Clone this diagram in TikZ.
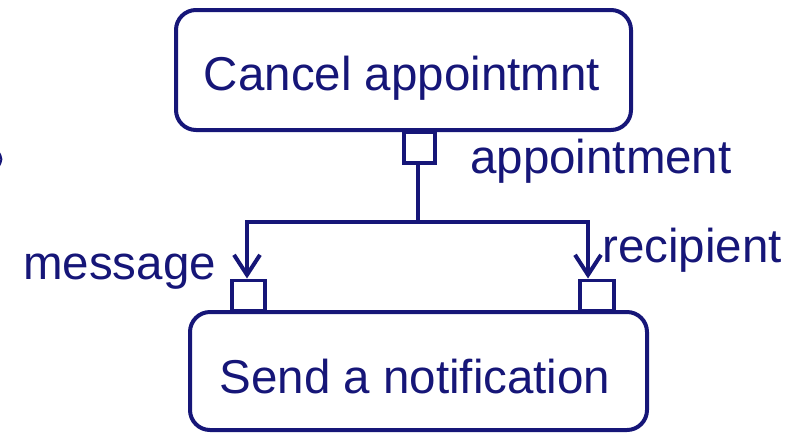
\documentclass[tikz,border=0pt]{standalone}
\usepackage{fontspec}
\setmainfont{Liberation Sans}
\usetikzlibrary{arrows.meta}
\definecolor{navy}{RGB}{22,22,120}
\begin{document}
\begin{tikzpicture}[x=1pt,y=-1pt,
  every node/.style={text=navy,font=\fontsize{47.5}{56}\selectfont},
  action/.style={draw=navy,line width=4pt,rounded corners=20pt,inner sep=0pt},
  pin/.style={draw=navy,line width=3.5pt,inner sep=0pt,minimum width=31pt,minimum height=31pt},
  conn/.style={draw=navy,line width=4pt},
  lbl/.style={anchor=base,inner sep=0pt},
  >={Straight Barb[length=20pt,width=26pt,line width=4pt]}]
\useasboundingbox (0,0) rectangle (786,432);
\node[action,minimum width=455pt,minimum height=120pt] (cancel) at (403.5,70) {};
\node[lbl] (canceltext) at (402,90) {Cancel appointmnt};
\node[action,minimum width=457pt,minimum height=118pt] (send) at (418.5,371) {};
\node[lbl] (sendtext) at (415,393) {Send a notification};
\node[pin,anchor=north west] (tpin) at (402,130) {};
\node[pin,minimum width=33pt,minimum height=30pt,anchor=south west] (lpin) at (230,312) {};
\node[pin,minimum width=34pt,minimum height=30pt,anchor=south west] (rpin) at (578,312) {};
\coordinate (jl) at (247,222);
\coordinate (jr) at (588,222);
\draw[conn] (tpin.south -| 418,0) -- (418,222);
\draw[conn,line join=miter,<->] (jl |- lpin.north) -- (jl) -- (jr) -- (jr |- rpin.north);
\node[anchor=base west,inner sep=0pt] (lapp) at (470,173) {appointment};
\node[anchor=base west,inner sep=0pt] (lmsg) at (23,279) {message};
\node[anchor=base west,inner sep=0pt] (lrec) at (602,262) {recipient};
\draw[navy,line width=2pt] (-2,151) .. controls (2.5,159) .. (-2,168);
\end{tikzpicture}
\end{document}
